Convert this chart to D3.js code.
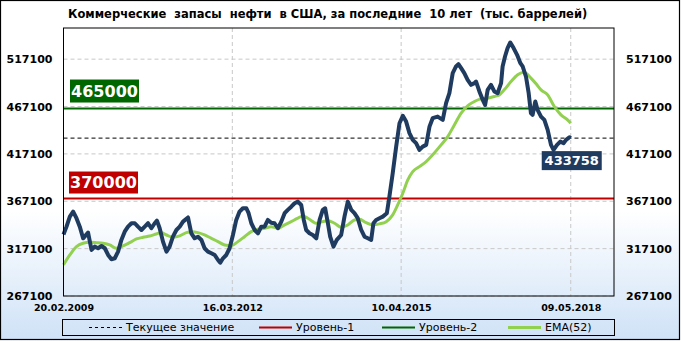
<!DOCTYPE html>
<html>
<head>
<meta charset="utf-8">
<script src="https://cdn.jsdelivr.net/npm/d3@7"></script>
<style>
	body { margin: 0; background: #fff; }
	text { font-family: 'DejaVu Sans', sans-serif; }
</style>
</head>
<body>
<svg id="container" width="681" height="341"></svg>
<script>

// data
const TITLE = 'Коммерческие  запасы  нефти  в США, за последние  10 лет  (тыс. баррелей)';
const Y_TICKS = [267100, 317100, 367100, 417100, 467100, 517100];
const X_TICKS = ['2009-02-20', '2012-03-16', '2015-04-10', '2018-05-09'];
const LEVEL_1 = 370000, LEVEL_2 = 465000, CURRENT = 433758;
const LEGEND = ['Текущее значение', 'Уровень-1', 'Уровень-2', 'EMA(52)'];

const STOCK_DATES = ['2009-02-20','2009-03-12','2009-04-03','2009-04-25','2009-05-17','2009-06-08','2009-06-30','2009-08-02',
	'2009-08-25','2009-09-15','2009-10-07','2009-10-30','2009-11-21','2009-12-13','2010-01-04','2010-01-26','2010-02-17',
	'2010-03-11','2010-04-02','2010-04-24','2010-05-17','2010-06-08','2010-06-29','2010-07-22','2010-08-13','2010-09-04',
	'2010-09-26','2010-10-18','2010-11-02','2010-11-20','2010-12-12','2011-01-04','2011-01-25','2011-02-16','2011-03-11',
	'2011-04-02','2011-04-24','2011-05-27','2011-06-18','2011-07-10','2011-08-01','2011-08-24','2011-09-14','2011-10-06',
	'2011-10-29','2011-11-20','2011-12-12','2011-12-27','2012-01-14','2012-02-05','2012-02-27','2012-03-20','2012-04-11',
	'2012-05-03','2012-05-25','2012-06-17','2012-07-02','2012-07-20','2012-08-11','2012-09-02','2012-09-24','2012-10-16',
	'2012-11-07','2012-11-29','2012-12-21','2013-01-12','2013-02-04','2013-02-26','2013-03-19','2013-04-11','2013-05-03',
	'2013-05-25','2013-06-16','2013-07-03','2013-07-19','2013-08-10','2013-09-01','2013-09-24','2013-10-16','2013-11-06',
	'2013-11-22','2013-12-10','2013-12-25','2014-01-16','2014-02-07','2014-03-08','2014-03-30','2014-04-21','2014-05-14',
	'2014-06-04','2014-06-26','2014-07-19','2014-08-10','2014-09-01','2014-09-23','2014-10-08','2014-10-26','2014-11-17',
	'2014-12-09','2015-01-05','2015-01-22','2015-02-13','2015-03-08','2015-03-30','2015-04-21','2015-05-13','2015-06-04',
	'2015-06-26','2015-07-18','2015-08-09','2015-08-31','2015-09-23','2015-10-15','2015-11-05','2015-12-08','2016-01-11',
	'2016-02-02','2016-02-24','2016-03-17','2016-04-08','2016-04-24','2016-05-12','2016-06-02','2016-06-24','2016-07-17',
	'2016-08-08','2016-08-19','2016-09-10','2016-10-02','2016-10-18','2016-11-04','2016-11-26','2016-12-18','2017-01-09',
	'2017-02-01','2017-02-11','2017-02-27','2017-03-16','2017-04-03','2017-04-25','2017-05-18','2017-06-09','2017-06-24',
	'2017-07-16','2017-08-03','2017-08-18','2017-08-29','2017-09-16','2017-10-01','2017-10-24','2017-11-15','2017-12-07',
	'2017-12-29','2018-01-15','2018-02-07','2018-03-01','2018-03-23','2018-04-08','2018-04-30','2018-05-09'];
const STOCK_VALUES = [332000,340300,350900,356200,349200,340300,328000,334000,
	315700,319200,317500,319900,317500,310400,305900,306900,313900,
	326300,335000,340300,343900,343900,340300,336800,340300,343900,
	338600,343900,346600,338600,324500,313900,319200,329700,336800,
	340300,345600,350000,333300,328000,329700,326300,317500,313900,
	312200,310400,305100,302300,306900,310400,317500,331500,347400,
	356200,359700,359700,354500,343900,336800,333300,340300,340300,
	347400,344500,343900,338600,345600,354500,358000,361400,365000,
	366700,363200,347400,336800,333300,331500,328000,347400,358000,
	359700,343900,329700,319200,326300,331500,350900,366700,358000,
	354500,349200,336800,329700,328000,326300,343900,347400,349200,
	350900,354500,372000,396700,424800,449500,457300,451200,439000,
	431900,428400,421300,424800,426600,445900,454800,456500,453000,
	470700,481200,502400,509400,511900,507600,502400,495300,490000,
	491800,493500,483000,474200,468900,484700,490000,483000,481200,
	491800,509400,519900,528800,534700,528800,521700,512900,509400,
	498800,481200,460100,458300,472400,463600,456500,453000,442500,
	426600,421300,426600,430100,428400,431900,434700,433758];

const EMA_DATES = ['2009-02-20','2009-04-03','2009-05-17','2009-06-30','2009-08-13','2009-09-27','2009-11-09','2009-12-24',
	'2010-02-06','2010-03-22','2010-05-05','2010-06-19','2010-08-02','2010-09-15','2010-10-29','2010-12-01','2011-01-04',
	'2011-02-16','2011-04-02','2011-05-16','2011-06-19','2011-08-01','2011-09-14','2011-10-29','2011-12-12','2012-01-25',
	'2012-03-09','2012-04-22','2012-06-05','2012-07-20','2012-09-02','2012-10-16','2012-11-29','2013-01-12','2013-02-26',
	'2013-04-11','2013-05-25','2013-06-27','2013-07-30','2013-09-01','2013-09-24','2013-11-06','2013-12-10','2014-01-23',
	'2014-03-08','2014-04-21','2014-06-04','2014-07-08','2014-08-21','2014-10-04','2014-11-17','2015-01-01','2015-02-13',
	'2015-03-18','2015-04-21','2015-05-24','2015-06-26','2015-08-09','2015-09-23','2015-11-05','2015-12-31','2016-02-13',
	'2016-03-28','2016-05-12','2016-06-24','2016-08-08','2016-09-21','2016-11-04','2016-12-18','2017-01-20','2017-02-22',
	'2017-04-08','2017-05-22','2017-06-24','2017-07-16','2017-08-18','2017-09-21','2017-10-24','2017-12-07','2018-01-20',
	'2018-03-05','2018-04-18','2018-05-09'];
const EMA_VALUES = [300000,310400,319200,322800,323800,323400,322800,321000,
	317500,319900,323400,327300,329100,330500,332600,334000,331500,
	329100,330500,334000,335000,334000,331500,328000,324500,321000,
	320200,324500,329700,335000,337600,338600,340300,338600,342100,
	345600,349200,351600,349200,345600,343900,345600,346600,343900,
	339700,342100,347400,348100,344500,342100,343200,345600,352700,
	363200,375600,389600,398400,403700,409000,416100,426600,435400,
	447700,460100,467800,472400,475200,475900,477700,479400,484700,
	493500,500600,503000,502400,497100,491100,484700,479400,467100,
	458300,453000,449500];

// layout
const W = 681, H = 341;
const LEFT = 63.5, RIGHT = 614, TOP = 28, BOTTOM = 296;
const NAVY = '#1f3b60', RED = '#c00000', GREEN = '#006600', EMA_COLOR = '#92d050';

var parse = d3.timeParse('%Y-%m-%d');
var fmt = d3.timeFormat('%d.%m.%Y');
var stock = STOCK_DATES.map(function(d, i) { return { date: parse(d), value: STOCK_VALUES[i] }; });
var ema = EMA_DATES.map(function(d, i) { return { date: parse(d), value: EMA_VALUES[i] }; });

var svg = d3.select('#container');

// background
var defs = svg.append('defs');
var grad = defs.append('linearGradient').attr('id', 'bg').attr('x1', 0).attr('y1', 0).attr('x2', 0).attr('y2', 1);
grad.append('stop').attr('offset', '0%').attr('stop-color', '#ffffff');
grad.append('stop').attr('offset', '62%').attr('stop-color', '#ffffff');
grad.append('stop').attr('offset', '100%').attr('stop-color', '#cfe2f7');

svg.append('rect')
	.attr('x', 0.5).attr('y', 0.5)
	.attr('width', W - 2).attr('height', H - 2)
	.attr('fill', 'url(#bg)')
	.attr('stroke', '#000')
	.attr('stroke-width', 1.2);

// scales
var x = d3.scaleTime()
	.domain([parse('2009-02-20'), parse('2019-02-20')])
	.range([LEFT, RIGHT]);
var y = d3.scaleLinear()
	.domain([267100, 550000])
	.range([BOTTOM, TOP]);

// title
svg.append('text')
	.attr('x', 68)
	.attr('y', 18)
	.style('font-size', '11.5px')
	.style('font-weight', 'bold')
	.style('white-space', 'pre')
	.text(TITLE);

// grid
svg.append('g')
	.selectAll('line')
	.data(Y_TICKS)
	.enter()
	.append('line')
	.attr('x1', LEFT).attr('x2', RIGHT)
	.attr('y1', function(d) { return y(d); })
	.attr('y2', function(d) { return y(d); })
	.attr('stroke', '#c8c8c8')
	.attr('stroke-dasharray', '4,3');

svg.append('g')
	.selectAll('line')
	.data(X_TICKS)
	.enter()
	.append('line')
	.attr('x1', function(d) { return x(parse(d)); })
	.attr('x2', function(d) { return x(parse(d)); })
	.attr('y1', TOP).attr('y2', BOTTOM)
	.attr('stroke', '#c8c8c8')
	.attr('stroke-dasharray', '4,3');

// axes
var leftAxis = svg.append('g')
	.attr('transform', 'translate(' + (LEFT - 11) + ',0)')
	.call(d3.axisLeft(y).tickValues(Y_TICKS).tickSize(0).tickPadding(0).tickFormat(d3.format('d')));
var rightAxis = svg.append('g')
	.attr('transform', 'translate(' + (RIGHT + 12) + ',0)')
	.call(d3.axisRight(y).tickValues(Y_TICKS).tickSize(0).tickPadding(0).tickFormat(d3.format('d')));
var bottomAxis = svg.append('g')
	.attr('transform', 'translate(0,' + (BOTTOM + 8) + ')')
	.call(d3.axisBottom(x).tickValues(X_TICKS.map(parse)).tickSize(0).tickPadding(0).tickFormat(fmt));

[leftAxis, rightAxis, bottomAxis].forEach(function(a) {
	a.select('.domain').remove();
	a.selectAll('text')
		.attr('fill', '#000')
		.style('font-family', "'DejaVu Sans', sans-serif")
		.style('font-weight', 'bold');
});
leftAxis.selectAll('text').style('font-size', '11px');
rightAxis.selectAll('text').style('font-size', '11px');
bottomAxis.selectAll('text').style('font-size', '9.5px');

// levels
svg.append('line')
	.attr('x1', LEFT).attr('x2', RIGHT)
	.attr('y1', y(CURRENT)).attr('y2', y(CURRENT))
	.attr('stroke', '#000')
	.attr('stroke-dasharray', '4,3');
svg.append('line')
	.attr('x1', LEFT).attr('x2', RIGHT)
	.attr('y1', y(LEVEL_1)).attr('y2', y(LEVEL_1))
	.attr('stroke', RED)
	.attr('stroke-width', 2);
svg.append('line')
	.attr('x1', LEFT).attr('x2', RIGHT)
	.attr('y1', y(LEVEL_2)).attr('y2', y(LEVEL_2))
	.attr('stroke', GREEN)
	.attr('stroke-width', 2);

// series
var line = d3.line()
	.x(function(d) { return x(d.date); })
	.y(function(d) { return y(d.value); });

svg.append('path')
	.datum(ema)
	.attr('d', line.curve(d3.curveMonotoneX))
	.attr('fill', 'none')
	.attr('stroke', EMA_COLOR)
	.attr('stroke-width', 3);

svg.append('path')
	.datum(stock)
	.attr('d', line.curve(d3.curveLinear))
	.attr('fill', 'none')
	.attr('stroke', NAVY)
	.attr('stroke-width', 4)
	.attr('stroke-linejoin', 'round');

// plot frame
svg.append('rect')
	.attr('x', LEFT).attr('y', TOP)
	.attr('width', RIGHT - LEFT).attr('height', BOTTOM - TOP)
	.attr('fill', 'none')
	.attr('stroke', '#000');

// value labels
function label(value, color, xPos, yPos, w, h, size) {
	var g = svg.append('g');
	g.append('rect')
		.attr('x', xPos).attr('y', yPos)
		.attr('width', w).attr('height', h)
		.attr('fill', color);
	g.append('text')
		.attr('x', xPos + w / 2)
		.attr('y', yPos + h / 2)
		.attr('dy', '0.36em')
		.attr('text-anchor', 'middle')
		.attr('fill', '#fff')
		.style('font-size', size + 'px')
		.style('font-weight', 'bold')
		.text(value);
}
label(LEVEL_2, GREEN, 70, y(LEVEL_2) - 29, 69, 23, 16);
label(LEVEL_1, RED, 69, y(LEVEL_1) - 27, 69, 22, 16);
label(CURRENT, NAVY, x(stock[stock.length - 1].date) - 29, y(CURRENT) + 13, 60, 19, 13);

// legend
var legend = svg.append('g');
legend.append('rect')
	.attr('x', 62.5).attr('y', 319.5)
	.attr('width', 552).attr('height', 16)
	.attr('fill', 'none')
	.attr('stroke', '#000');

const LEG_X = [89, 259, 382, 508];
const LEG_STYLE = [
	{ color: '#000', width: 1, dash: '3,3' },
	{ color: RED, width: 2, dash: null },
	{ color: GREEN, width: 2, dash: null },
	{ color: EMA_COLOR, width: 3, dash: null }
];
var items = legend.selectAll('g.item')
	.data(LEGEND)
	.enter()
	.append('g')
	.attr('class', 'item')
	.attr('transform', function(d, i) { return 'translate(' + LEG_X[i] + ',327.5)'; });
items.append('line')
	.attr('x1', 0).attr('x2', 33)
	.attr('stroke', function(d, i) { return LEG_STYLE[i].color; })
	.attr('stroke-width', function(d, i) { return LEG_STYLE[i].width; })
	.attr('stroke-dasharray', function(d, i) { return LEG_STYLE[i].dash; });
items.append('text')
	.attr('x', 37)
	.attr('dy', '0.35em')
	.style('font-size', '11px')
	.text(function(d) { return d; });

</script>
</body>
</html>
